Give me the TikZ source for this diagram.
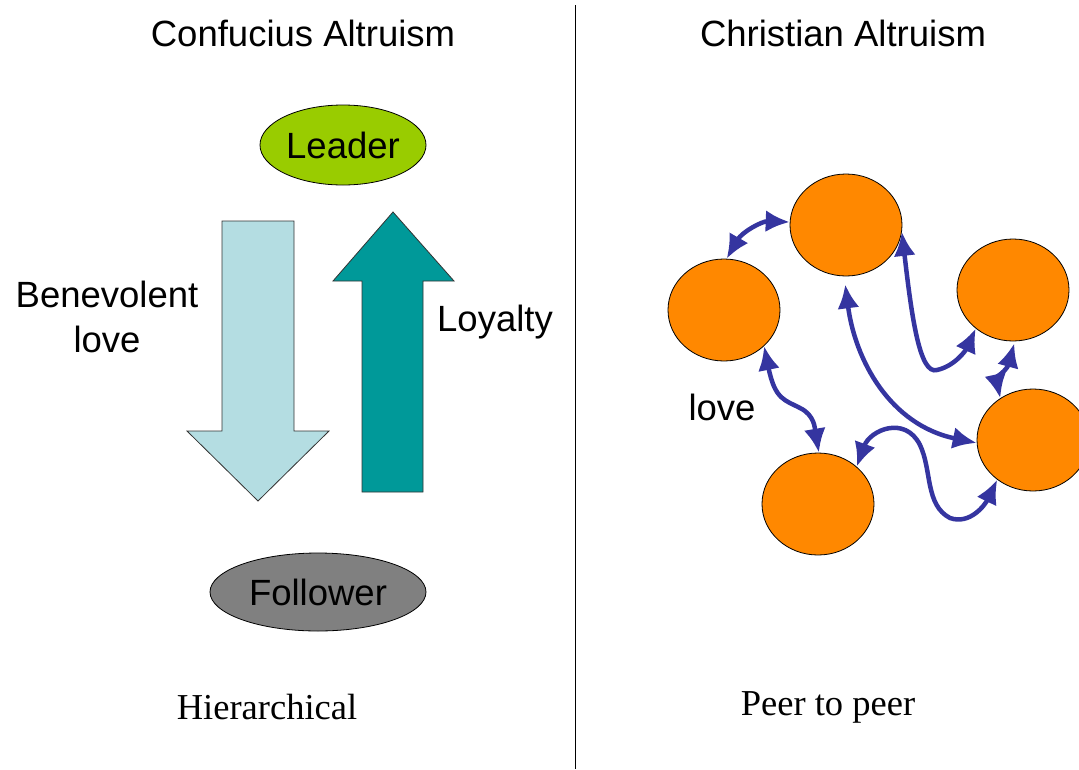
\documentclass[tikz,border=0pt]{standalone}
\usepackage{fontspec}
\setmainfont{Liberation Serif}
\setsansfont{Liberation Sans}
\usetikzlibrary{shapes.geometric,arrows.meta}
\definecolor{leadgreen}{HTML}{99CC00}
\definecolor{follgray}{HTML}{808080}
\definecolor{paleblue}{HTML}{B4DDE2}
\definecolor{tealc}{HTML}{009999}
\definecolor{orangec}{HTML}{FF8800}
\definecolor{lovebl}{HTML}{3535A0}
\tikzset{lovetip/.tip={Latex[length=24pt,width=22pt]}}
\begin{document}
\begin{tikzpicture}[x=1pt,y=-1pt,
  lbl/.style={inner sep=0pt,font=\fontsize{36.5}{45}\selectfont\sffamily},
  serlbl/.style={inner sep=0pt,font=\fontsize{36.5}{45}\selectfont\rmfamily},
  role/.style={ellipse,draw=black,line width=0.8pt,inner sep=0pt,font=\fontsize{36.5}{45}\selectfont\sffamily},
  peer/.style={ellipse,draw=black,line width=0.8pt,fill=orangec,minimum width=112pt,minimum height=102pt,inner sep=0pt},
  bigarrow/.style={draw=black!80,line width=0.8pt},
  lovearrow/.style={draw=lovebl,line width=4.5pt,lovetip-lovetip}
]
\useasboundingbox (0,0) rectangle (1079,769);
% divider
\draw[line width=1pt] (575,5) -- (575,769);
% titles
\node[lbl] (t1) at (303,33) {Confucius Altruism};
\node[lbl] (t2) at (843,33) {Christian Altruism};
% left side
\node[role,fill=leadgreen,minimum width=166pt,minimum height=80pt] (leader) at (343,145) {Leader};
\node[role,fill=follgray,minimum width=216pt,minimum height=78pt] (follower) at (318,592) {Follower};
\draw[bigarrow,fill=paleblue] (222,221) -- (294,221) -- (294,431) -- (329,431) -- (258,501) -- (187,431) -- (222,431) -- cycle;
\draw[bigarrow,fill=tealc] (362,492) -- (423,492) -- (423,281) -- (454,281) -- (393,212) -- (333,281) -- (362,281) -- cycle;
\node[lbl,align=center] (benev) at (107,317) {Benevolent\\love};
\node[lbl] (loyal) at (495,322) {Loyalty};
\node[serlbl] (hier) at (267,707) {Hierarchical};
% right side
\node[peer] (c1) at (846,225) {};
\node[peer] (c2) at (724,310) {};
\node[peer] (c3) at (1013,290) {};
\node[peer] (c4) at (1033,440) {};
\node[peer] (c5) at (818,504) {};
\node[lbl] (lovetxt) at (722,407) {love};
\node[serlbl] (p2p) at (828,707) {Peer to peer};
% love connectors
\draw[lovearrow] (c2.87) .. controls (742,232) and (762,221) .. (c1.177);
\draw[lovearrow] (c2.318) .. controls (775,400) and (785,400) .. (800,408) .. controls (815,415) and (815,430) .. (c5.89);
\draw[lovearrow,shorten <=8pt] (c1.268) .. controls (855,360) and (890,425) .. (c4.183);
\draw[lovearrow] (c1.353) .. controls (912,320) and (920,375) .. (937,370) .. controls (955,366) and (966,350) .. (c3.226);
\draw[lovearrow,shorten <=2pt] (c3.272) .. controls (1007,370) and (996,378) .. (c4.128);
\draw[lovearrow] (c5.44) .. controls (870,430) and (905,415) .. (920,445) .. controls (932,470) and (925,505) .. (950,518) .. controls (970,525) and (985,505) .. (c4.228);
\end{tikzpicture}
\end{document}
